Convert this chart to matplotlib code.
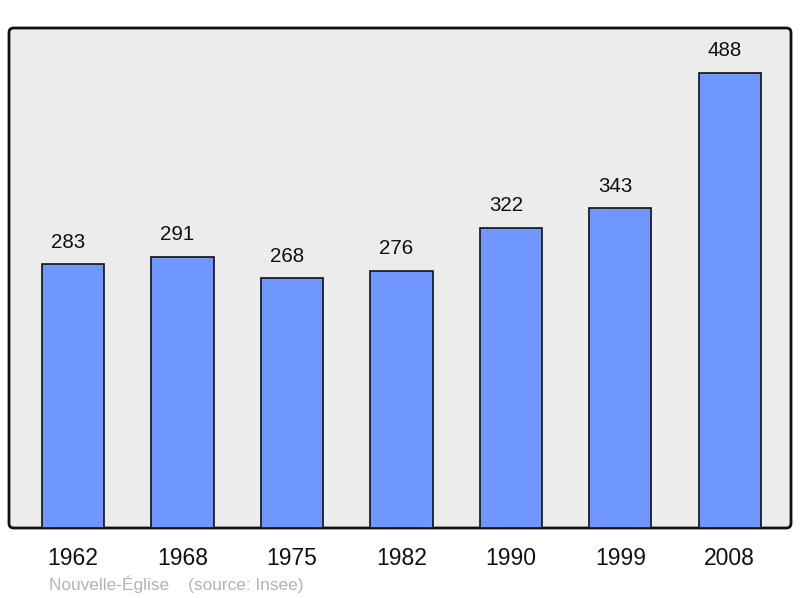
import matplotlib
matplotlib.use("Agg")
import matplotlib.pyplot as plt
from matplotlib.patches import FancyBboxPatch

years = ["1962", "1968", "1975", "1982", "1990", "1999", "2008"]
population = [283, 291, 268, 276, 322, 343, 488]

plt.rcParams['font.family'] = ['Liberation Sans', 'DejaVu Sans']

W, H = 800, 598
fig = plt.figure(figsize=(W / 100, H / 100), dpi=100)
ax = fig.add_axes([9 / W, (H - 528) / H, 782 / W, 500 / H])
ax.set_facecolor('none')
for s in ax.spines.values():
    s.set_visible(False)

frame = FancyBboxPatch((0, 0), 1, 1, boxstyle="round,pad=0,rounding_size=0.006",
                       transform=ax.transAxes, facecolor='#ececec', edgecolor='#111111',
                       linewidth=2.0, zorder=0, clip_on=False, mutation_aspect=782 / 500)
ax.add_patch(frame)

x = list(range(len(years)))
bars = ax.bar(x, population, width=0.57, color='#7097ff', edgecolor='#111111',
              linewidth=1.2, zorder=2)
for xi, v in zip(x, population):
    ax.annotate(str(v), (xi, v), xytext=(-3.6, 9), textcoords='offset points',
                ha='center', va='bottom', fontsize=14.8, color='#111111')

ax.set_xlim(-0.585, 6.56)
ax.set_ylim(0, 536)
ax.set_yticks([])
ax.set_xticks(x)
ax.set_xticklabels(years, fontsize=16.5, color='#111111')
ax.tick_params(axis='x', length=0, pad=14)

fig.text(49 / W, 1 - 584 / H, "Nouvelle-Église    (source: Insee)", fontsize=12.4,
         color='#b3b3b3', ha='left', va='center')

fig.savefig("out.png", dpi=100)
